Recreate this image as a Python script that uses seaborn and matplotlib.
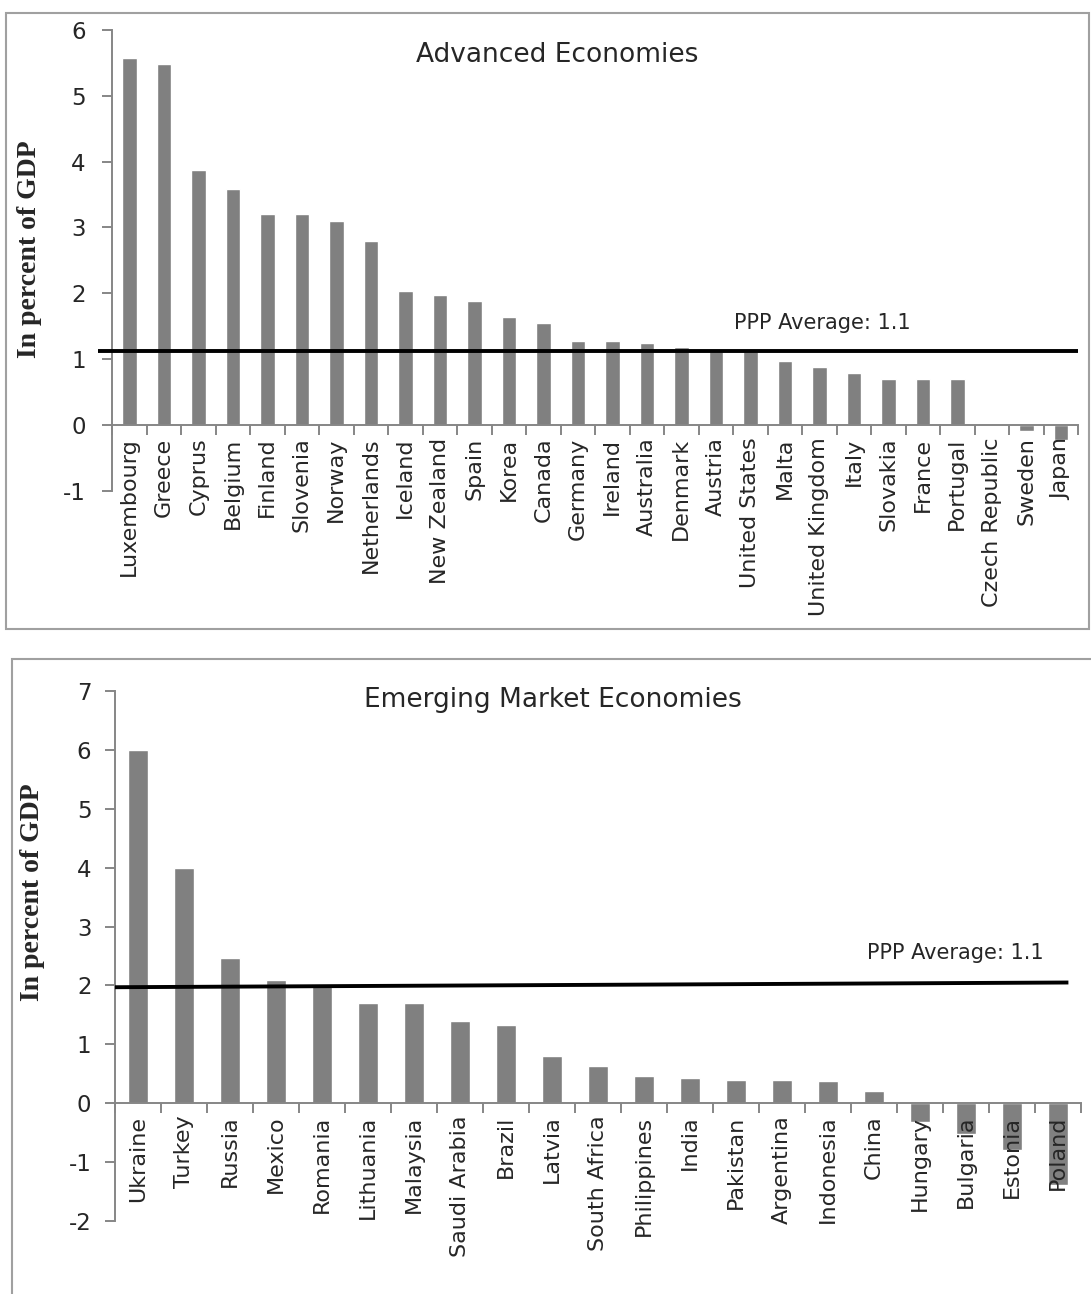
import numpy as np
import pandas as pd
import seaborn as sns
import matplotlib
matplotlib.use('Agg')
from matplotlib import pyplot as plt
from matplotlib.patches import Rectangle

# Advanced economies (in percent of GDP)
adv_countries = ['Luxembourg', 'Greece', 'Cyprus', 'Belgium', 'Finland', 'Slovenia', 'Norway',
                 'Netherlands', 'Iceland', 'New Zealand', 'Spain', 'Korea', 'Canada', 'Germany',
                 'Ireland', 'Australia', 'Denmark', 'Austria', 'United States', 'Malta',
                 'United Kingdom', 'Italy', 'Slovakia', 'France', 'Portugal', 'Czech Republic',
                 'Sweden', 'Japan']
adv_values = [5.57, 5.48, 3.88, 3.58, 3.2, 3.2, 3.1, 2.8, 2.03, 1.98, 1.88, 1.64, 1.55, 1.27,
              1.27, 1.24, 1.18, 1.12, 1.12, 0.97, 0.88, 0.79, 0.7, 0.7, 0.7, 0.0, -0.09, -0.22]
adv_ppp = [1.13, 1.13]

# Emerging market economies
em_countries = ['Ukraine', 'Turkey', 'Russia', 'Mexico', 'Romania', 'Lithuania', 'Malaysia',
                'Saudi Arabia', 'Brazil', 'Latvia', 'South Africa', 'Philippines', 'India',
                'Pakistan', 'Argentina', 'Indonesia', 'China', 'Hungary', 'Bulgaria', 'Estonia',
                'Poland']
em_values = [6.0, 4.0, 2.47, 2.1, 2.02, 1.7, 1.7, 1.4, 1.33, 0.8, 0.63, 0.47, 0.43, 0.4, 0.4,
             0.37, 0.2, -0.32, -0.53, -0.8, -1.39]
em_ppp = [1.97, 2.05]

ppp_label = 'PPP Average: 1.1'
ylabel = 'In percent of GDP'

sns.set_theme(style='white')
plt.rcParams['font.family'] = ['DejaVu Sans']
plt.rcParams['axes.unicode_minus'] = False

BAR = '#808080'
SPINE = '#868686'
BOX = '#a0a0a0'

fig = plt.figure(figsize=(10.91, 12.94), dpi=100)

# panel frames
fig.patches.append(Rectangle((0.0055, 0.5139), 0.9927, 0.476, transform=fig.transFigure,
                             fill=False, edgecolor=BOX, linewidth=1.5))
fig.patches.append(Rectangle((0.011, -0.02), 1.0, 0.5107, transform=fig.transFigure,
                             fill=False, edgecolor=BOX, linewidth=1.5))


def panel(rect, countries, values, ylim, title, title_xy, ppp, ppp_x, text_xy, ylabel_xy, ypad):
    ax = fig.add_axes(rect)
    df = pd.DataFrame({'country': countries, 'value': values})
    sns.barplot(data=df, x='country', y='value', color=BAR, saturation=1, width=0.42, ax=ax)
    n = len(countries)

    # x axis sits on the zero line (do this first, it resets the ticks)
    for s in ['top', 'right']:
        ax.spines[s].set_visible(False)
    for s in ['left', 'bottom']:
        ax.spines[s].set_color(SPINE)
        ax.spines[s].set_linewidth(1.4)
    ax.spines['bottom'].set_position(('data', 0))
    # labels drawn over the negative bars, like the original
    ax.set_axisbelow(False)

    ax.set_xlim(-0.5, n - 0.5)
    ax.set_ylim(*ylim)
    ax.set_yticks(np.arange(ylim[0], ylim[1] + 1))
    ax.set_xticks(np.arange(n))
    ax.set_xticks(np.arange(n + 1) - 0.5, minor=True)
    ax.set_xticklabels(countries, rotation=90, ha='center', va='top', fontsize=16)
    ax.tick_params(axis='x', which='major', length=0, pad=9)
    ax.tick_params(axis='x', which='minor', length=7, width=1.4, color=SPINE, direction='out',
                   bottom=True)
    ax.tick_params(axis='y', length=7, width=1.4, color=SPINE, direction='out', labelsize=16.5,
                   pad=ypad, left=True)
    ax.set_xlabel('')
    ax.set_ylabel(ylabel, fontsize=20, fontweight='bold', family=['Liberation Serif'])
    ax.yaxis.set_label_coords(*ylabel_xy)
    ax.plot(ppp_x, ppp, color='black', linewidth=2.8, transform=ax.get_yaxis_transform(),
            clip_on=False, solid_capstyle='butt', zorder=3)
    ax.text(*title_xy, title, transform=ax.transAxes, ha='center', va='center', fontsize=19)
    ax.text(*text_xy, ppp_label, transform=ax.transAxes, ha='center', va='center', fontsize=15)
    return ax


panel([0.1027, 0.6206, 0.8854, 0.3563], adv_countries, adv_values, (-1, 6),
      'Advanced Economies', (0.461, 0.946), adv_ppp, [-0.015, 1.0], (0.735, 0.364),
      (-0.0725, 0.525), 12)
panel([0.1054, 0.0564, 0.8854, 0.4096], em_countries, em_values, (-2, 7),
      'Emerging Market Economies', (0.453, 0.983), em_ppp, [0.0, 0.987], (0.87, 0.506),
      (-0.0725, 0.62), 10)

fig.savefig('out.png', dpi=100)
